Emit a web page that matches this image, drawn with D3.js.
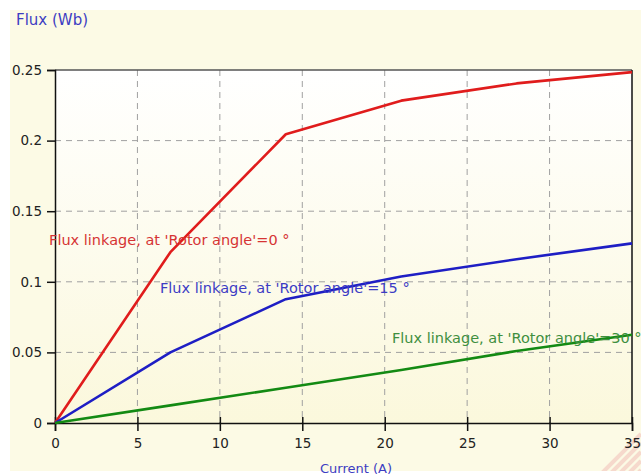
<!DOCTYPE html>
<html>
<head>
<meta charset="utf-8">
<script src="https://cdn.jsdelivr.net/npm/d3@7"></script>
<style>
  body { margin: 0; background: #fff; }
  svg { display: block; }
</style>
</head>
<body>
<svg id="chart"></svg>
<script>
// data
const current   = [0, 7, 14, 21, 28, 35];
const fluxAt0   = [0, 0.121, 0.2045, 0.2283, 0.2405, 0.2485];
const fluxAt15  = [0, 0.050, 0.0877, 0.1037, 0.1160, 0.1272];
const fluxAt30  = [0, 0.0125, 0.0250, 0.0375, 0.0510, 0.0625];
const seriesNames  = ["Flux linkage, at 'Rotor angle'=0 °", "Flux linkage, at 'Rotor angle'=15 °", "Flux linkage, at 'Rotor angle'=30 °"];
const labelAnchorX = [-0.36, 6.37, 20.44];
const labelAnchorY = [0.1297, 0.0957, 0.0601];
const xTicks = [0, 5, 10, 15, 20, 25, 30, 35];
const yTicks = [0, 0.05, 0.1, 0.15, 0.2, 0.25];

initChart();

function initChart() {
  let width   = 641,
    height    = 475,
    left      = 55,
    right     = 632,
    top       = 70,
    bottom    = 423,
    lineCols  = ["#e01c1c", "#1e1ec4", "#138a13"],
    textCols  = ["#d63434", "#3c3cc4", "#3f8f3f"],
    x         = d3.scaleLinear().domain([0, 35]).range([left, right]),
    y         = d3.scaleLinear().domain([0, 0.25]).range([bottom, top]),
    svg       = d3.select("#chart").attr("width", width).attr("height", height),
    series    = [fluxAt0, fluxAt15, fluxAt30];

  let defs = svg.append("defs");
  let grad = defs.append("linearGradient").attr("id", "plotBg")
    .attr("x1", 0).attr("y1", 0).attr("x2", 0).attr("y2", 1);
  grad.append("stop").attr("offset", "0%").attr("stop-color", "#ffffff");
  grad.append("stop").attr("offset", "100%").attr("stop-color", "#fbf8dc");
  defs.append("clipPath").attr("id", "panelClip")
    .append("rect").attr("x", 10).attr("y", 10).attr("width", 631).attr("height", 461);

  let panel = svg.append("g").attr("clip-path", "url(#panelClip)");

  // panel + plot background
  panel.append("rect").attr("x", 10).attr("y", 10).attr("width", 631).attr("height", 461)
    .attr("fill", "#fcfae5");
  panel.append("rect").attr("x", left).attr("y", top)
    .attr("width", right - left).attr("height", bottom - top)
    .attr("fill", "url(#plotBg)");

  // faint watermark stripes in the corner
  [0, 1, 2, 3, 4].forEach(i => {
    panel.append("path")
      .attr("d", `M${600 + i * 9},475 L641,${434 + i * 9}`)
      .attr("stroke", "#f3c4bd").attr("stroke-width", 4).attr("opacity", 0.6);
  });

  // grid
  panel.append("g").selectAll("line")
    .data(xTicks.slice(1, -1)).join("line")
    .attr("x1", d => x(d)).attr("x2", d => x(d))
    .attr("y1", top).attr("y2", bottom)
    .attr("stroke", "#a0a0a0").attr("stroke-dasharray", "6,5");
  panel.append("g").selectAll("line")
    .data(yTicks.slice(1, -1)).join("line")
    .attr("y1", d => y(d)).attr("y2", d => y(d))
    .attr("x1", left).attr("x2", right)
    .attr("stroke", "#a0a0a0").attr("stroke-dasharray", "6,5");

  // frame
  panel.append("line").attr("x1", left).attr("x2", right).attr("y1", top).attr("y2", top)
    .attr("stroke", "#555").attr("stroke-width", 1.5);
  panel.append("line").attr("x1", right).attr("x2", right).attr("y1", top).attr("y2", bottom)
    .attr("stroke", "#111").attr("stroke-width", 1.5);

  // axes
  let xAxis = panel.append("g").attr("transform", `translate(0,${bottom})`)
    .call(d3.axisBottom(x).tickValues(xTicks).tickSize(8).tickPadding(7).tickFormat(d3.format("d")));
  xAxis.selectAll(".tick line").attr("y1", -6).attr("stroke-width", 1.5).attr("stroke", "#111");
  let yAxis = panel.append("g").attr("transform", `translate(${left},0)`)
    .call(d3.axisLeft(y).tickValues(yTicks).tickSize(8).tickPadding(5).tickFormat(d => d === 0 ? "0" : d3.format("")(+d.toFixed(2))));
  yAxis.selectAll(".tick line").attr("stroke-width", 1.5).attr("stroke", "#111");
  [xAxis, yAxis].forEach(a => {
    a.select(".domain").attr("stroke", "#111").attr("stroke-width", 1.5);
    a.selectAll(".tick text").attr("font-family", "DejaVu Sans").attr("font-size", 13.5).attr("fill", "#222");
  });

  // lines
  let line = d3.line().x((d, i) => x(current[i])).y(d => y(d));
  panel.append("g").selectAll("path")
    .data(series).join("path")
    .attr("d", line)
    .attr("fill", "none")
    .attr("stroke", (d, i) => lineCols[i])
    .attr("stroke-width", 2.6)
    .attr("stroke-linejoin", "round");

  // series labels
  panel.append("g").selectAll("text")
    .data(seriesNames).join("text")
    .attr("x", (d, i) => x(labelAnchorX[i]))
    .attr("y", (d, i) => y(labelAnchorY[i]))
    .attr("dy", "0.36em")
    .attr("font-family", "DejaVu Sans").attr("font-size", 14.5)
    .attr("fill", (d, i) => textCols[i])
    .text(d => d);

  // axis titles (x title spills past the panel edge, as in the original)
  panel.append("text").attr("x", 16).attr("y", 25)
    .attr("font-family", "DejaVu Sans").attr("font-size", 15).attr("fill", "#3d3dc2")
    .text("Flux (Wb)");
  svg.append("text").attr("x", 320).attr("y", 473)
    .attr("font-family", "DejaVu Sans").attr("font-size", 13).attr("fill", "#3d3dc2")
    .text("Current (A)");
}
</script>
</body>
</html>
